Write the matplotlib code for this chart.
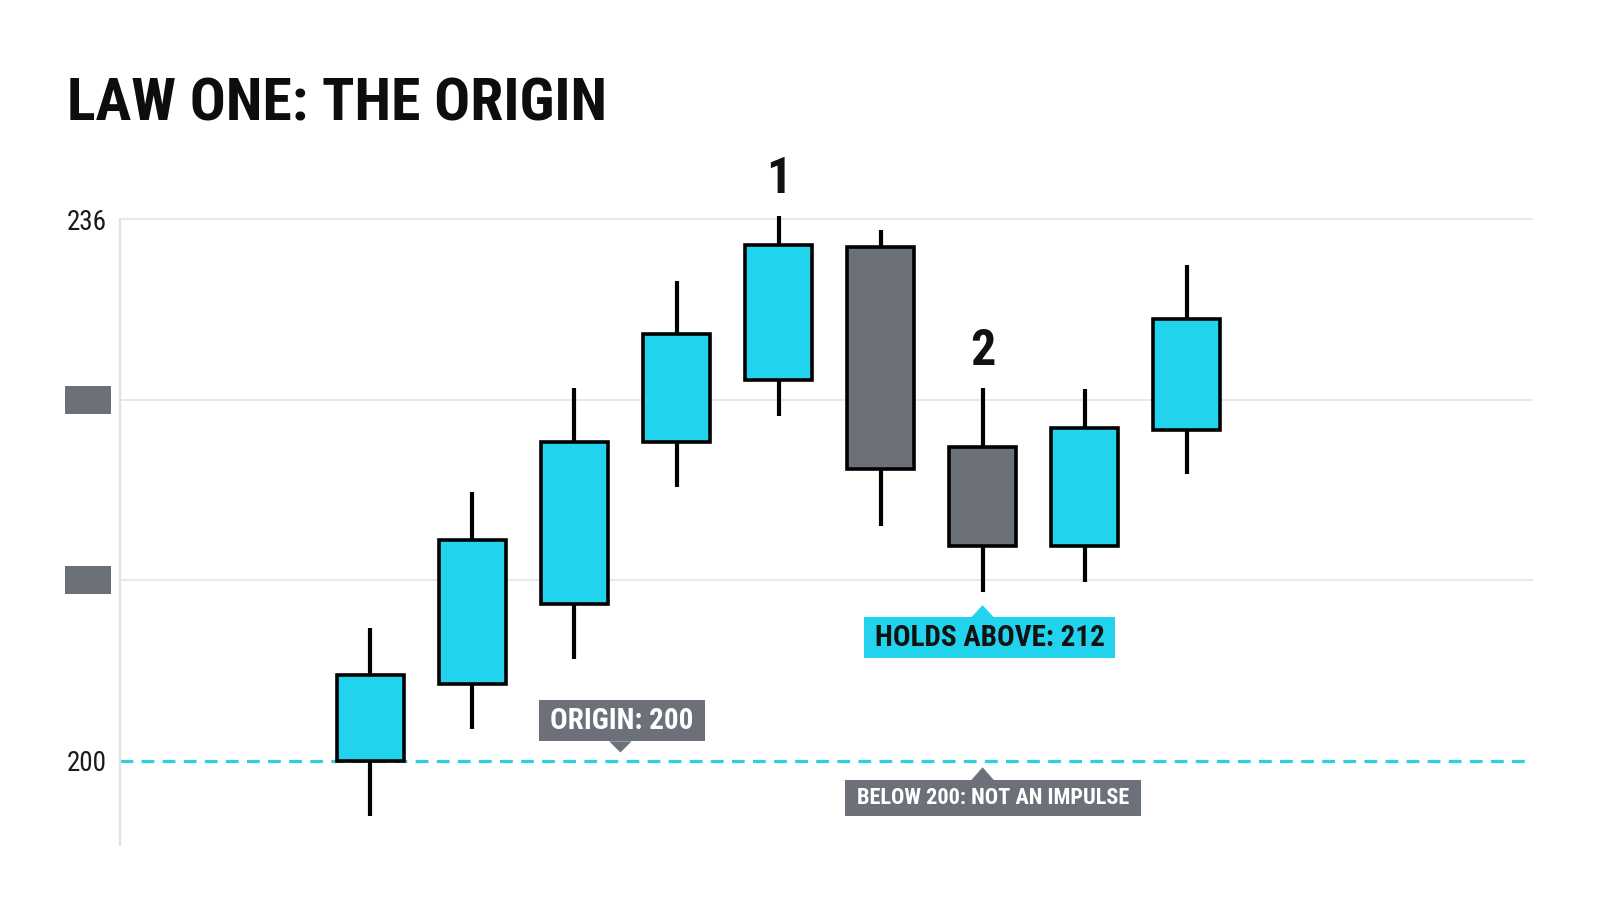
import matplotlib
matplotlib.use('Agg')
import matplotlib.pyplot as plt
from matplotlib.patches import Rectangle, Polygon
from matplotlib.transforms import blended_transform_factory

# palette
CYAN = '#22D3EE'
GRAY = '#6B7079'
GRID = '#E6E8EB'
DASH = '#2ED0E0'

COND = ['Roboto Condensed', 'Liberation Sans Narrow', 'DejaVu Sans Condensed', 'Roboto']

# candle data
opens = [200.0, 205.1, 210.4, 221.2, 225.3, 234.2, 220.9, 214.3, 222.0]
highs = [208.8, 217.9, 224.8, 231.9, 236.2, 235.3, 224.8, 224.7, 233.0]
lows = [196.3, 202.1, 206.8, 218.2, 222.9, 215.6, 211.2, 211.9, 219.1]
closes = [205.7, 214.7, 221.2, 228.4, 234.3, 219.4, 214.3, 222.1, 229.4]

grid_levels = [212, 224, 236]
origin_level = 200
tick_values = [200, 212, 224, 236]
tick_labels = ['200', '', '', '236']
hidden_ticks = [212, 224]

# swing markers: (candle index, text)
swing_marks = [(4, '1'), (6, '2')]

fig = plt.figure(figsize=(16, 9.14), dpi=100)
ax = fig.add_axes([0.0753, 0.0755, 0.8825, 0.6844])

body_w = 0.66
for i, (o, h, l, c) in enumerate(zip(opens, highs, lows, closes)):
    color = CYAN if c >= o else GRAY
    ax.plot([i, i], [l, h], color='black', lw=3, solid_capstyle='butt', zorder=3, clip_on=False)
    ax.add_patch(Rectangle((i - body_w / 2, min(o, c)), body_w, abs(c - o),
                           facecolor=color, edgecolor='black', lw=2.6, zorder=4, clip_on=False))

for lvl in grid_levels:
    ax.axhline(lvl, color=GRID, lw=1.5, zorder=1, clip_on=False)
ax.axhline(origin_level, color=DASH, lw=2.3, dashes=(4, 2.6), zorder=2)

for idx, txt in swing_marks:
    ax.text(idx, highs[idx] + 2.45, txt, ha='center', va='center', fontsize=36,
            fontweight='bold', family=COND, fontstretch='condensed', color='#111111')

ax.set_xlim(-2.45, 11.39)
ax.set_ylim(194.4, 236)
ax.set_xticks([])
ax.set_yticks(tick_values)
ax.set_yticklabels(tick_labels)
for lab in ax.get_yticklabels():
    lab.set_family(COND)
    lab.set_fontstretch('condensed')
    lab.set_fontsize(19.5)
    lab.set_color('#1a1a1a')
ax.tick_params(axis='y', length=0, pad=10)

for s in ['top', 'right', 'bottom']:
    ax.spines[s].set_visible(False)
ax.spines['left'].set_color('#E2E2E2')
ax.spines['left'].set_linewidth(1.6)

# placeholder blocks for the hidden tick labels
trans = blended_transform_factory(ax.transAxes, ax.transData)
for lvl in hidden_ticks:
    ax.add_patch(Rectangle((-0.0395, lvl - 0.93), 0.0326, 1.86, transform=trans,
                           facecolor=GRAY, edgecolor='none', clip_on=False))


def callout(xc, yc, w, h, text, face, tcolor, size, tip_x, tip_y):
    ax.add_patch(Rectangle((xc - w / 2, yc - h / 2), w, h, facecolor=face,
                           edgecolor='none', zorder=5, clip_on=False))
    base = yc + h / 2 if tip_y > yc else yc - h / 2
    ax.add_patch(Polygon([(tip_x - 0.11, base), (tip_x + 0.11, base), (tip_x, tip_y)],
                         closed=True, facecolor=face, edgecolor='none', zorder=5, clip_on=False))
    ax.text(xc, yc, text, ha='center', va='center', fontsize=size, fontweight='bold',
            family=COND, fontstretch='condensed', color=tcolor, zorder=6)


callout(6.07, 208.18, 2.46, 2.73, 'HOLDS ABOVE: 212', CYAN, '#111111', 21, 6.0, 210.35)
callout(2.465, 202.66, 1.63, 2.73, 'ORIGIN: 200', GRAY, 'white', 21, 2.45, 200.55)
callout(6.10, 197.52, 2.90, 2.40, 'BELOW 200: NOT AN IMPULSE', GRAY, 'white', 16, 6.0, 199.57)

fig.text(67 / 1600, 1 - 120.5 / 914, 'LAW ONE: THE ORIGIN', ha='left', va='baseline',
         fontsize=43, fontweight='bold', family=COND, fontstretch='condensed', color='#0d0d0d')

fig.savefig('out.png', dpi=100, facecolor='white')
